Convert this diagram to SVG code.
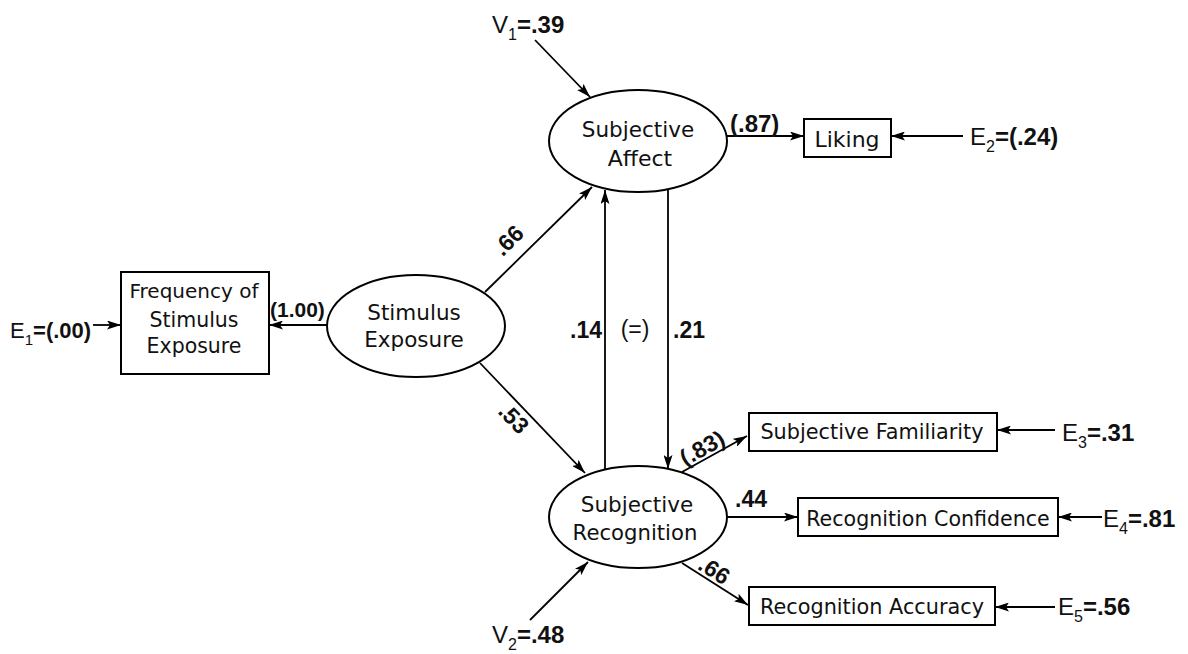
<svg xmlns="http://www.w3.org/2000/svg" width="1188" height="654" viewBox="0 0 1188 654">
<defs>
<marker id="ah" viewBox="0 0 14 9" refX="14" refY="4.5" markerWidth="14" markerHeight="9" markerUnits="userSpaceOnUse" orient="auto">
<path d="M0,0 L14,4.5 L0,9 L3,4.5 z" fill="#000"/>
</marker>
<style>
.shape{fill:#fff;stroke:#000;stroke-width:2}
.lbl{font-family:"DejaVu Sans","Liberation Sans",sans-serif;font-size:21px;fill:#111;text-anchor:middle}
.num{font-family:"Liberation Sans",Arial,sans-serif;font-weight:bold;font-size:23px;fill:#111}
.var{font-family:"Liberation Sans",Arial,sans-serif;font-size:24px;fill:#111}
.sub{font-size:16px;font-weight:normal}
.val{font-weight:bold}
#connectors line{stroke:#000;stroke-width:1.8;marker-end:url(#ah)}
</style>
</defs>
<rect width="1188" height="654" fill="#fff"/>

<g id="connectors">
<line x1="535" y1="40" x2="590" y2="97"/>
<line x1="727" y1="136" x2="804" y2="136"/>
<line x1="963" y1="136" x2="891" y2="136"/>
<line x1="328" y1="325" x2="269" y2="325"/>
<line x1="93" y1="325" x2="121" y2="325"/>
<line x1="485" y1="292" x2="592" y2="187"/>
<line x1="480" y1="363" x2="585" y2="473"/>
<line x1="605" y1="469" x2="605" y2="190"/>
<line x1="668" y1="189" x2="668" y2="469"/>
<line x1="682" y1="472" x2="747" y2="436"/>
<line x1="727" y1="517" x2="798" y2="517"/>
<line x1="682" y1="563" x2="748" y2="605"/>
<line x1="1055" y1="430" x2="997" y2="430"/>
<line x1="1102" y1="517" x2="1058" y2="517"/>
<line x1="1055" y1="607" x2="995" y2="607"/>
<line x1="530" y1="620" x2="588" y2="562"/>
</g>

<g id="edge-labels">
<text class="num" x="730" y="132" style="font-size:24px">(.87)</text>
<text class="num" x="270" y="317" style="font-size:21px">(1.00)</text>
<text class="num" x="514" y="246" text-anchor="middle" transform="rotate(-45 514 246)">.66</text>
<text class="num" x="508" y="424" text-anchor="middle" transform="rotate(46 508 424)">.53</text>
<text class="num" x="570" y="338">.14</text>
<text class="num" x="635" y="337" text-anchor="middle" style="font-weight:normal">(=)</text>
<text class="num" x="673" y="338">.21</text>
<text class="num" x="706" y="455" text-anchor="middle" transform="rotate(-29 706 455)">(.83)</text>
<text class="num" x="735" y="507">.44</text>
<text class="num" x="710" y="577" text-anchor="middle" transform="rotate(32.5 710 577)">.66</text>
</g>

<g id="subjective-affect">
<ellipse class="shape" cx="638" cy="141" rx="89" ry="51"/>
<text class="lbl" x="638" y="137" style="font-size:21.5px">Subjective</text>
<text class="lbl" x="640" y="166" style="font-size:22px">Affect</text>
</g>

<g id="stimulus-exposure">
<ellipse class="shape" cx="416" cy="326" rx="89" ry="51"/>
<text class="lbl" x="414" y="320" style="font-size:21.5px">Stimulus</text>
<text class="lbl" x="414" y="347" style="font-size:21.5px">Exposure</text>
</g>

<g id="subjective-recognition">
<ellipse class="shape" cx="638" cy="517" rx="89" ry="51"/>
<text class="lbl" x="637" y="512" style="font-size:21.5px">Subjective</text>
<text class="lbl" x="635" y="540" style="font-size:21.2px">Recognition</text>
</g>

<g id="frequency">
<rect class="shape" x="121" y="272" width="148" height="102"/>
<text class="lbl" x="194" y="298" style="font-size:20px">Frequency of</text>
<text class="lbl" x="194" y="327" style="font-size:20.5px">Stimulus</text>
<text class="lbl" x="194" y="353" style="font-size:20.5px">Exposure</text>
</g>

<g id="liking">
<rect class="shape" x="804" y="119" width="87" height="38"/>
<text class="lbl" x="847" y="147" style="font-size:22px">Liking</text>
</g>

<g id="subjective-familiarity">
<rect class="shape" x="749" y="413" width="248" height="38"/>
<text class="lbl" x="872" y="439" style="font-size:20.8px">Subjective Familiarity</text>
</g>

<g id="recognition-confidence">
<rect class="shape" x="798" y="498" width="260" height="38"/>
<text class="lbl" x="928" y="526" style="font-size:20.6px">Recognition Confidence</text>
</g>

<g id="recognition-accuracy">
<rect class="shape" x="749" y="587" width="246" height="38"/>
<text class="lbl" x="872" y="614" style="font-size:20.8px">Recognition Accuracy</text>
</g>

<g id="v1"><text class="var" x="492" y="33">V<tspan class="sub" dy="7">1</tspan><tspan class="val" dy="-7">=.39</tspan></text></g>
<g id="v2"><text class="var" x="492" y="643">V<tspan class="sub" dy="7">2</tspan><tspan class="val" dy="-7">=.48</tspan></text></g>
<g id="e1"><text class="var" x="10" y="338" style="font-size:22px">E<tspan class="sub" dy="7" style="font-size:15px">1</tspan><tspan class="val" dy="-7">=(.00)</tspan></text></g>
<g id="e2"><text class="var" x="970" y="145">E<tspan class="sub" dy="7">2</tspan><tspan class="val" dy="-7">=(.24)</tspan></text></g>
<g id="e3"><text class="var" x="1062" y="441">E<tspan class="sub" dy="7">3</tspan><tspan class="val" dy="-7">=.31</tspan></text></g>
<g id="e4"><text class="var" x="1103" y="527">E<tspan class="sub" dy="7">4</tspan><tspan class="val" dy="-7">=.81</tspan></text></g>
<g id="e5"><text class="var" x="1058" y="615">E<tspan class="sub" dy="7">5</tspan><tspan class="val" dy="-7">=.56</tspan></text></g>
</svg>
